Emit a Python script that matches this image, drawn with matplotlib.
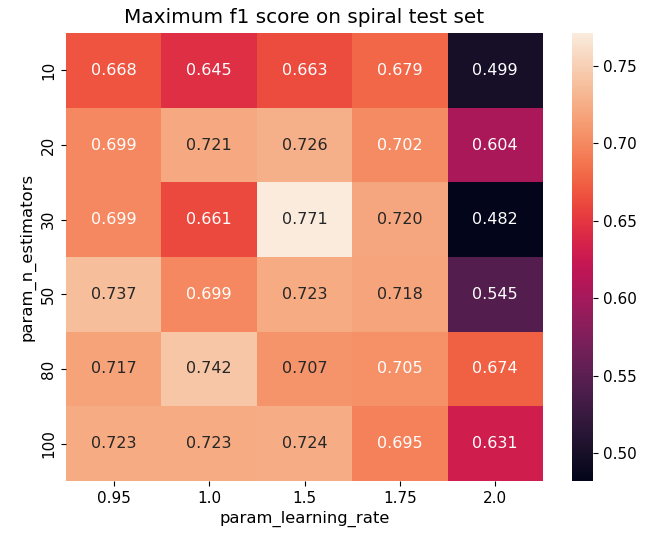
import numpy as np
import pandas as pd
import matplotlib
matplotlib.use("Agg")
import matplotlib.pyplot as plt
import seaborn as sns

learning_rates = ["0.95", "1.0", "1.5", "1.75", "2.0"]
n_estimators = ["10", "20", "30", "50", "80", "100"]
f1_scores = [
    [0.668, 0.645, 0.663, 0.679, 0.499],
    [0.699, 0.721, 0.726, 0.702, 0.604],
    [0.699, 0.661, 0.771, 0.720, 0.482],
    [0.737, 0.699, 0.723, 0.718, 0.545],
    [0.717, 0.742, 0.707, 0.705, 0.674],
    [0.723, 0.723, 0.724, 0.695, 0.631],
]

df = pd.DataFrame(f1_scores, index=n_estimators, columns=learning_rates)
df.index.name = "param_n_estimators"
df.columns.name = "param_learning_rate"

W, H = 646, 539
fig = plt.figure(figsize=(W / 100, H / 100), dpi=100)
ax = fig.add_axes([66 / W, 1 - 481 / H, 477 / W, 448 / H])
cax = fig.add_axes([572 / W, 1 - 481 / H, 21 / W, 448 / H])

sns.heatmap(df, annot=True, fmt=".3f", cmap="rocket", ax=ax, cbar_ax=cax,
            annot_kws={"fontsize": 11.5})
ax.set_title("Maximum f1 score on spiral test set", fontsize=14.4, pad=7)
ax.tick_params(labelsize=11)
ax.xaxis.label.set_size(11.8)
ax.yaxis.label.set_size(11.8)
cax.tick_params(labelsize=11)
plt.savefig("out.png", dpi=100)
